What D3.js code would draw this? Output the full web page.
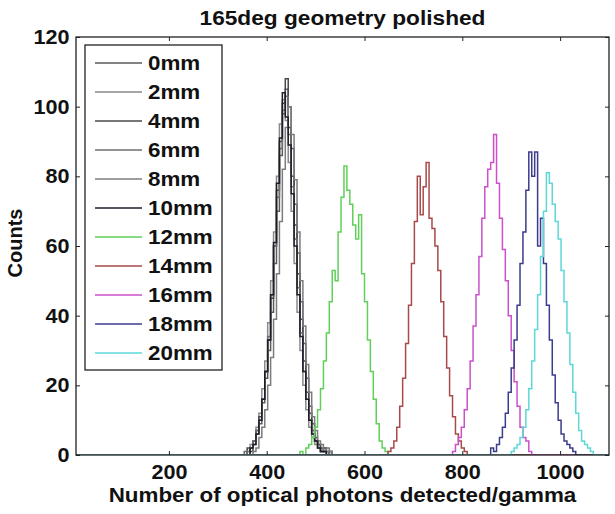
<!DOCTYPE html>
<html><head><meta charset="utf-8">
<script src="https://cdn.jsdelivr.net/npm/d3@7"></script>
<style>
body{margin:0;background:#fff}
text{font-family:"Liberation Sans",Arial,sans-serif;font-weight:bold;fill:#111}
</style>
</head><body>
<svg id="c" width="615" height="514"></svg>
<script>
const seriesNames = ["0mm","2mm","4mm","6mm","8mm","10mm","12mm","14mm","16mm","18mm","20mm"];
const seriesColors = ["#5a5a5a","#8a8a8a","#4a4a4a","#6e6e6e","#7c7c7c","#1e1e2a","#62cf5a","#a84a4a","#cc50cc","#3c3c8c","#5cd8d8"];
const binWidth = 6;
const binStarts = [360,360,360,354,372,366,468,648,780,858,900];
const counts0mm  = [1,2,3,6,9,15,22,30,41,55,70,86,98,105,100,88,72,58,44,32,22,14,9,5,3,2,1,1,0];
const counts2mm  = [1,3,4,8,12,19,27,38,50,64,80,95,102,96,84,70,55,41,30,20,13,8,5,3,2,1,2,1];
const counts4mm  = [2,1,4,7,11,16,24,33,45,60,76,90,101,108,94,80,66,52,39,27,18,12,7,4,3,1,2,0,1];
const counts6mm  = [1,0,2,4,7,10,16,24,34,46,60,74,88,99,103,92,77,62,48,35,24,16,10,6,4,2,1,1,0,1];
const counts8mm  = [1,2,5,8,13,20,28,39,52,67,82,94,100,92,79,64,50,37,26,18,11,7,4,3,1,2,1];
const counts10mm = [2,3,6,10,16,24,33,46,61,78,91,104,97,89,75,60,46,34,24,16,10,6,4,2,1,1];
const counts12mm = [1,0,2,3,5,8,13,19,27,35,44,53,50,64,74,83,76,72,66,62,69,52,44,33,24,16,9,4,2,1];
const counts14mm = [1,2,4,8,14,22,32,43,55,67,80,69,77,84,68,65,60,53,44,34,25,17,11,6,4,2,1,0];
const counts16mm = [1,3,5,8,13,19,27,37,46,57,68,77,82,84,92,78,68,59,50,40,30,21,14,8,5,4,1];
const counts18mm = [2,1,3,5,8,12,18,25,33,43,55,64,76,87,80,87,60,68,55,43,33,23,15,10,6,4,3,2,1];
const counts20mm = [1,2,3,5,8,13,19,27,36,46,57,70,81,78,72,67,62,53,44,35,26,18,12,7,4,3,2,1,0];
const seriesCounts = [counts0mm,counts2mm,counts4mm,counts6mm,counts8mm,counts10mm,counts12mm,counts14mm,counts16mm,counts18mm,counts20mm];
const xDomain = [10,1100];
const yDomain = [0,120];
const xTicks = [200,400,600,800,1000];
const yTicks = [0,20,40,60,80,100,120];
const titleText = "165deg geometry polished";
const xLabel = "Number of optical photons detected/gamma";
const yLabel = "Counts";

const L = 76, R = 609, T = 37, B = 455;
const svg = d3.select("#c");
const x = d3.scaleLinear().domain(xDomain).range([L, R]);
const y = d3.scaleLinear().domain(yDomain).range([B, T]);

svg.append("defs").append("clipPath").attr("id","clip")
  .append("rect").attr("x",L).attr("y",T-2).attr("width",R-L).attr("height",B-T+2);

const line = d3.line().x(d=>x(d[0])).y(d=>y(d[1])).curve(d3.curveStepAfter);
const g = svg.append("g").attr("clip-path","url(#clip)");
seriesCounts.forEach((c,i)=>{
  const s = binStarts[i];
  const pts = [[xDomain[0],0]];
  c.forEach((v,j)=>pts.push([s+j*binWidth, v]));
  pts.push([s+c.length*binWidth, 0]);
  pts.push([xDomain[1], 0]);
  g.append("path").attr("d", line(pts)).attr("fill","none")
    .attr("stroke", seriesColors[i]).attr("stroke-width",1.5);
});

// frame
svg.append("rect").attr("x",L).attr("y",T).attr("width",R-L).attr("height",B-T)
  .attr("fill","none").attr("stroke","#222").attr("stroke-width",1.3);

const fmt = d3.format("d");
const xb = svg.append("g").attr("transform",`translate(0,${B})`)
  .call(d3.axisBottom(x).tickValues(xTicks).tickFormat(fmt).tickSizeInner(-4).tickSizeOuter(0).tickPadding(10));
const xt = svg.append("g").attr("transform",`translate(0,${T})`)
  .call(d3.axisTop(x).tickValues(xTicks).tickSizeInner(-4).tickSizeOuter(0).tickFormat(""));
const yl = svg.append("g").attr("transform",`translate(${L},0)`)
  .call(d3.axisLeft(y).tickValues(yTicks).tickFormat(fmt).tickSizeInner(-4).tickSizeOuter(0).tickPadding(6));
const yr = svg.append("g").attr("transform",`translate(${R},0)`)
  .call(d3.axisRight(y).tickValues(yTicks).tickSizeInner(-4).tickSizeOuter(0).tickFormat(""));
[xb,xt,yl,yr].forEach(a=>{
  a.select(".domain").remove();
  a.selectAll("line").attr("stroke","#222");
  a.selectAll("text").attr("font-size",20).attr("font-family",null).attr("fill","#111")
    .attr("transform","scale(1.08,1)");
});

svg.append("text").attr("transform",`translate(${(L+R)/2},25) scale(1.08,1)`)
  .attr("text-anchor","middle").attr("font-size",21).text(titleText);
svg.append("text").attr("transform",`translate(${(L+R)/2},502) scale(1.12,1)`)
  .attr("text-anchor","middle").attr("font-size",20).text(xLabel);
svg.append("text").attr("transform",`translate(22,243) rotate(-90)`)
  .attr("text-anchor","middle").attr("font-size",20).text(yLabel);

// legend
const lg = svg.append("g");
lg.append("rect").attr("x",85).attr("y",45).attr("width",137).attr("height",325)
  .attr("fill","#fff").attr("stroke","#222").attr("stroke-width",1.3);
seriesNames.forEach((n,i)=>{
  const yy = 63 + i*29;
  lg.append("line").attr("x1",95).attr("x2",142).attr("y1",yy).attr("y2",yy)
    .attr("stroke",seriesColors[i]).attr("stroke-width",1.5);
  lg.append("text").attr("transform",`translate(148,${yy}) scale(1.12,1)`).attr("dy","0.35em")
    .attr("font-size",20).text(n);
});
</script>
</body></html>
